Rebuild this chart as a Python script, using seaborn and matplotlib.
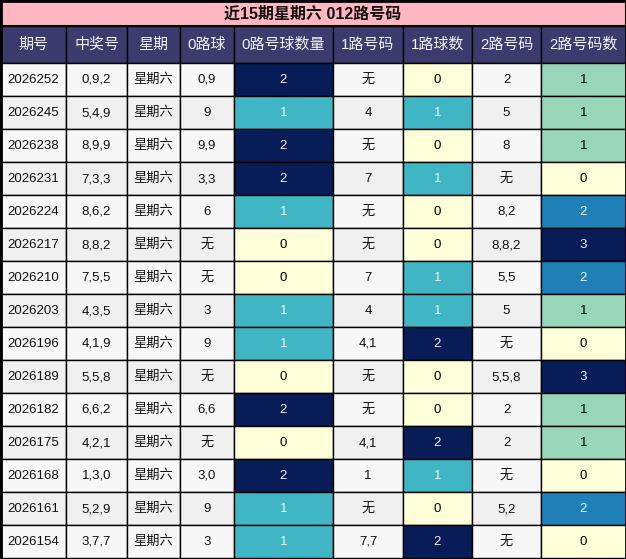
import numpy as np
import matplotlib
matplotlib.use("Agg")
import matplotlib.pyplot as plt
import matplotlib.colors as mcolors
from matplotlib.patches import Rectangle
import seaborn as sns

sns.set_theme(style="white")
plt.rcParams["font.family"] = ["Liberation Sans", "Noto Sans CJK SC", "DejaVu Sans"]

title = "近15期星期六 012路号码"
headers = ["期号", "中奖号", "星期", "0路球", "0路号球数量", "1路号码", "1路球数", "2路号码", "2路号码数"]

periods = ["2026252", "2026245", "2026238", "2026231", "2026224", "2026217", "2026210", "2026203",
           "2026196", "2026189", "2026182", "2026175", "2026168", "2026161", "2026154"]
winning = ["0,9,2", "5,4,9", "8,9,9", "7,3,3", "8,6,2", "8,8,2", "7,5,5", "4,3,5",
           "4,1,9", "5,5,8", "6,6,2", "4,2,1", "1,3,0", "5,2,9", "3,7,7"]
weekday = ["星期六"] * 15
road0 = ["0,9", "9", "9,9", "3,3", "6", "无", "无", "3", "9", "无", "6,6", "无", "3,0", "9", "3"]
road0_cnt = [2, 1, 2, 2, 1, 0, 0, 1, 1, 0, 2, 0, 2, 1, 1]
road1 = ["无", "4", "无", "7", "无", "无", "7", "4", "4,1", "无", "无", "4,1", "1", "无", "7,7"]
road1_cnt = [0, 1, 0, 1, 0, 0, 1, 1, 2, 0, 0, 2, 1, 0, 2]
road2 = ["2", "5", "8", "无", "8,2", "8,8,2", "5,5", "5", "无", "5,5,8", "2", "2", "无", "5,2", "无"]
road2_cnt = [1, 1, 1, 0, 2, 3, 2, 1, 0, 3, 1, 1, 0, 2, 0]

columns = [periods, winning, weekday, road0, road0_cnt, road1, road1_cnt, road2, road2_cnt]
gradient_cols = {4, 6, 8}

col_edges = [0, 66, 127, 180, 234, 333, 403, 472, 541, 626]
title_h = 26
header_h = 37
row_h = 33

cmap = sns.color_palette("YlGnBu", as_cmap=True)


def text_color_for(rgba):
    # relative luminance, dark backgrounds get light text
    def lin(c):
        return c / 12.92 if c <= 0.04045 else ((c + 0.055) / 1.055) ** 2.4
    r, g, b = (lin(c) for c in rgba[:3])
    lum = 0.2126 * r + 0.7152 * g + 0.0722 * b
    return "#f1f1f1" if lum < 0.408 else "#000000"


fig = plt.figure(figsize=(6.26, 5.59), dpi=100)
ax = fig.add_axes([0, 0, 1, 1])
ax.set_xlim(0, 626)
ax.set_ylim(559, 0)
ax.axis("off")

# title bar
ax.add_patch(Rectangle((0, 0), 626, title_h, facecolor="#ffb6c1", edgecolor="black", lw=1.5))
ax.text(313, title_h / 2 + 1, title, ha="center", va="center", fontsize=11.5,
        fontweight="bold", color="#111111")

# header
for j, h in enumerate(headers):
    x0, x1 = col_edges[j], col_edges[j + 1]
    ax.add_patch(Rectangle((x0, title_h), x1 - x0, header_h, facecolor="#3c3b6e",
                           edgecolor="black", lw=1))
    ax.text((x0 + x1) / 2, title_h + header_h / 2, h, ha="center", va="center",
            fontsize=10.8, color="#f4f4f4")

# body
top = title_h + header_h
for i in range(len(periods)):
    y0 = top + i * row_h
    base = "#f7f7f7" if i % 2 == 0 else "#f0f0f0"
    for j, col in enumerate(columns):
        x0, x1 = col_edges[j], col_edges[j + 1]
        val = col[i]
        if j in gradient_cols:
            vmax = max(col)
            rgba = cmap(mcolors.Normalize(0, vmax)(val))
            fc = rgba
            tc = text_color_for(rgba)
        else:
            fc = base
            tc = "#111111"
        ax.add_patch(Rectangle((x0, y0), x1 - x0, row_h, facecolor=fc, edgecolor="black", lw=1))
        ax.text((x0 + x1) / 2, y0 + row_h / 2 + 0.5, str(val), ha="center", va="center",
                fontsize=9.5, color=tc)

# outer border
ax.add_patch(Rectangle((0.5, 0.5), 625, 558, facecolor="none", edgecolor="black", lw=2))

fig.savefig("out.png", dpi=100)
